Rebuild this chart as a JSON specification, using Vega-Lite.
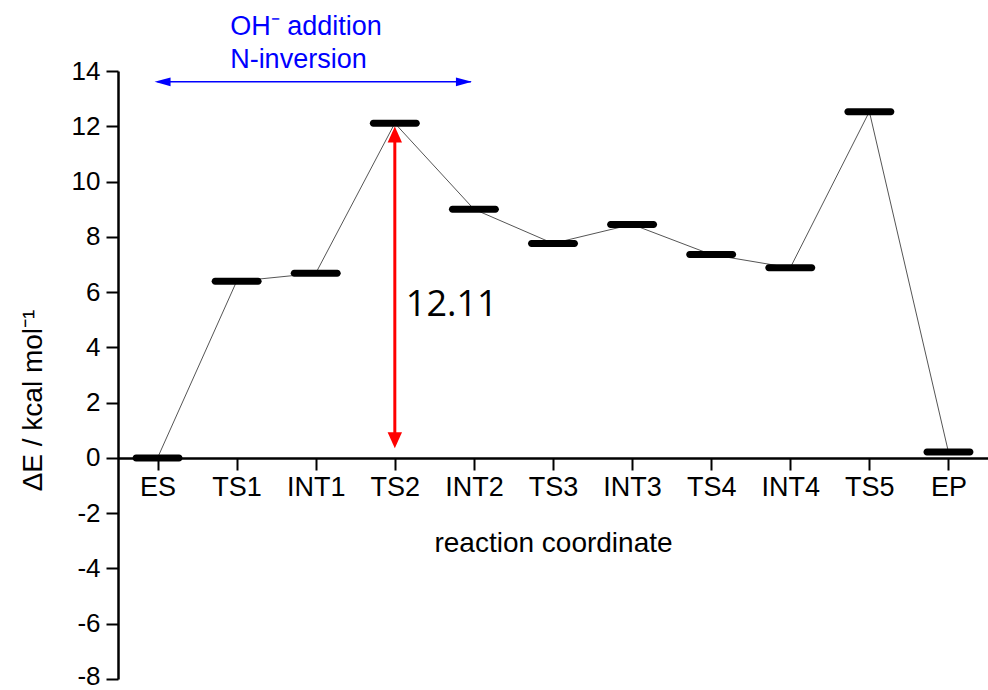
{
  "$schema": "https://vega.github.io/schema/vega-lite/v6.json",
  "width": 870,
  "height": 608,
  "autosize": {"type": "none"},
  "padding": {"left": 118, "top": 71, "right": 0, "bottom": 11},
  "background": "white",
  "config": {
    "view": {"stroke": null},
    "axis": {
      "labelFont": "Liberation Sans",
      "titleFont": "Liberation Sans",
      "labelColor": "black",
      "titleColor": "black",
      "domainColor": "black",
      "tickColor": "black",
      "grid": false,
      "titleFontWeight": "normal"
    }
  },
  "datasets": {
    "levels": [
      {"state": "ES", "E": 0.0},
      {"state": "TS1", "E": 6.39},
      {"state": "INT1", "E": 6.68},
      {"state": "TS2", "E": 12.11},
      {"state": "INT2", "E": 9.0},
      {"state": "TS3", "E": 7.76},
      {"state": "INT3", "E": 8.45},
      {"state": "TS4", "E": 7.36},
      {"state": "INT4", "E": 6.88},
      {"state": "TS5", "E": 12.53},
      {"state": "EP", "E": 0.21}
    ],
    "barrier": [
      {"state": "TS2", "lo": 0.64, "hi": 11.7, "label": "12.11", "labelE": 5.15}
    ],
    "heads": [
      {"state": "TS2", "E": 11.7, "dir": "up"},
      {"state": "TS2", "E": 0.64, "dir": "down"}
    ],
    "span": [
      {"from": "ES", "to": "INT2", "E": 13.61}
    ],
    "spanHeads": [
      {"state": "ES", "E": 13.61, "dir": "left"},
      {"state": "INT2", "E": 13.61, "dir": "right"}
    ],
    "spanText": [
      {"state": "TS1", "E": 15.3, "text": "OH⁻ addition"},
      {"state": "TS1", "E": 14.1, "text": "N-inversion"}
    ]
  },
  "layer": [
    {
      "data": {"name": "levels"},
      "mark": {"type": "line", "color": "#555555", "strokeWidth": 1},
      "encoding": {
        "x": {
          "field": "state",
          "type": "nominal",
          "sort": null,
          "scale": {"type": "point", "padding": 0.5, "domain": ["ES", "TS1", "INT1", "TS2", "INT2", "TS3", "INT3", "TS4", "INT4", "TS5", "EP"]},
          "axis": {
            "title": "reaction coordinate",
            "titleFontSize": 28,
            "titlePadding": 29,
            "labelFontSize": 27,
            "labelAngle": 0,
            "labelPadding": 4,
            "tickSize": 12,
            "tickWidth": 2,
            "domainWidth": 2.5,
            "offset": -221
          }
        },
        "y": {
          "field": "E",
          "type": "quantitative",
          "scale": {"domain": [-8, 14], "nice": false, "zero": false},
          "axis": {
            "title": "ΔE / kcal mol⁻¹",
            "titleFontSize": 28,
            "titleAngle": -90,
            "titleX": -85,
            "titleY": 329,
            "titleAlign": "center",
            "titleBaseline": "middle",
            "labelFontSize": 26,
            "labelPadding": 6,
            "labelOffset": {"condition": {"test": "datum.value === -8", "value": -3}, "value": 0},
            "values": [-8, -7, -6, -5, -4, -3, -2, -1, 0, 1, 2, 3, 4, 5, 6, 7, 8, 9, 10, 11, 12, 13, 14],
            "labelExpr": "datum.value % 2 === 0 ? replace(datum.label, '−', '-') : ''",
            "tickSize": {"condition": {"test": "datum.value % 2 !== 0", "value": 6}, "value": 12},
            "tickWidth": 2,
            "domainWidth": 2.5
          }
        }
      }
    },
    {
      "data": {"name": "levels"},
      "mark": {"type": "tick", "color": "black", "thickness": 7, "cornerRadius": 3.5, "opacity": 1},
      "encoding": {
        "x": {"field": "state", "type": "nominal", "sort": null},
        "y": {"field": "E", "type": "quantitative"},
        "size": {"value": 50}
      }
    },
    {
      "data": {"name": "barrier"},
      "mark": {"type": "rule", "color": "#ff0000", "strokeWidth": 3},
      "encoding": {
        "x": {"field": "state", "type": "nominal", "sort": null},
        "y": {"field": "lo", "type": "quantitative"},
        "y2": {"field": "hi"}
      }
    },
    {
      "data": {"name": "heads"},
      "transform": [{"filter": "datum.dir === 'up'"}],
      "mark": {"type": "point", "shape": "M0,-1L0.9,1L-0.9,1Z", "filled": true, "color": "#ff0000", "opacity": 1, "size": 256},
      "encoding": {
        "x": {"field": "state", "type": "nominal", "sort": null},
        "y": {"field": "E", "type": "quantitative"}
      }
    },
    {
      "data": {"name": "heads"},
      "transform": [{"filter": "datum.dir === 'down'"}],
      "mark": {"type": "point", "shape": "M0,1L0.9,-1L-0.9,-1Z", "filled": true, "color": "#ff0000", "opacity": 1, "size": 256},
      "encoding": {
        "x": {"field": "state", "type": "nominal", "sort": null},
        "y": {"field": "E", "type": "quantitative"}
      }
    },
    {
      "data": {"name": "barrier"},
      "mark": {"type": "text", "font": "Open Sans", "fontSize": 36, "color": "black", "align": "left", "baseline": "alphabetic", "dx": 11},
      "encoding": {
        "x": {"field": "state", "type": "nominal", "sort": null},
        "y": {"field": "labelE", "type": "quantitative"},
        "text": {"field": "label"}
      }
    },
    {
      "data": {"name": "span"},
      "mark": {"type": "rule", "color": "#0000ff", "strokeWidth": 1.5, "x2Offset": -3},
      "encoding": {
        "x": {"field": "from", "type": "nominal", "sort": null},
        "x2": {"field": "to"},
        "y": {"field": "E", "type": "quantitative"}
      }
    },
    {
      "data": {"name": "spanHeads"},
      "transform": [{"filter": "datum.dir === 'left'"}],
      "mark": {"type": "point", "shape": "M-1,0L1,-0.55L1,0.55Z", "filled": true, "color": "#0000ff", "opacity": 1, "size": 256, "xOffset": 5},
      "encoding": {
        "x": {"field": "state", "type": "nominal", "sort": null},
        "y": {"field": "E", "type": "quantitative"}
      }
    },
    {
      "data": {"name": "spanHeads"},
      "transform": [{"filter": "datum.dir === 'right'"}],
      "mark": {"type": "point", "shape": "M1,0L-1,-0.55L-1,0.55Z", "filled": true, "color": "#0000ff", "opacity": 1, "size": 256, "xOffset": -10},
      "encoding": {
        "x": {"field": "state", "type": "nominal", "sort": null},
        "y": {"field": "E", "type": "quantitative"}
      }
    },
    {
      "data": {"name": "spanText"},
      "mark": {"type": "text", "font": "Liberation Sans", "fontSize": 27, "color": "#0000ff", "align": "left", "baseline": "alphabetic", "dx": -6.5},
      "encoding": {
        "x": {"field": "state", "type": "nominal", "sort": null},
        "y": {"field": "E", "type": "quantitative"},
        "text": {"field": "text"}
      }
    }
  ]
}
